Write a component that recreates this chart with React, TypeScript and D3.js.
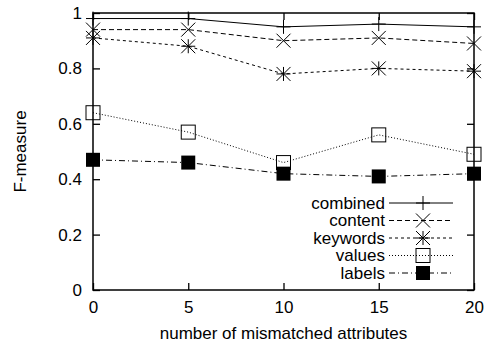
import * as d3 from 'd3';
import { useEffect, useRef } from 'react';

const attrs = [0, 5, 10, 15, 20];
const combined = [0.98, 0.98, 0.95, 0.96, 0.95];
const content = [0.94, 0.94, 0.9, 0.91, 0.89];
const keywords = [0.91, 0.88, 0.78, 0.8, 0.79];
const values = [0.64, 0.57, 0.46, 0.56, 0.49];
const labels = [0.47, 0.46, 0.42, 0.41, 0.42];
const yTicks = [0, 0.2, 0.4, 0.6, 0.8, 1];

const seriesNames = ['combined', 'content', 'keywords', 'values', 'labels'];

export default function App() {
  const ref = useRef<SVGSVGElement>(null);

  useEffect(() => {
    const svg = d3.select(ref.current);
    svg.selectAll('*').remove();

    const margin = { top: 13, right: 14, bottom: 55, left: 93 };
    const width = 488 - margin.left - margin.right;
    const height = 345 - margin.top - margin.bottom;
    const font = '"Liberation Sans", Arial, sans-serif';

    const x = d3.scaleLinear().domain([0, 20]).range([0, width]);
    const y = d3.scaleLinear().domain([0, 1]).range([height, 0]);

    const g = svg.append('g').attr('transform', `translate(${margin.left},${margin.top})`);

    // axes, ticks pointing inward on all four sides
    const axisStyle = (sel: any) => {
      sel.select('.domain').remove();
      sel.selectAll('line').attr('stroke', '#000').attr('stroke-width', 1.3);
      sel.selectAll('text').attr('fill', '#000').style('font-family', font).style('font-size', '17px');
    };
    g.append('g').attr('transform', `translate(0,${height})`)
      .call(d3.axisBottom(x).tickValues(attrs).tickSize(-7).tickSizeOuter(0).tickPadding(11).tickFormat(d3.format('d')))
      .call(axisStyle);
    g.append('g')
      .call(d3.axisTop(x).tickValues(attrs).tickSize(-7).tickSizeOuter(0).tickFormat(() => ''))
      .call(axisStyle);
    g.append('g')
      .call(d3.axisLeft(y).tickValues(yTicks).tickSize(-7).tickSizeOuter(0).tickPadding(11).tickFormat(d3.format('')))
      .call(axisStyle);
    g.append('g').attr('transform', `translate(${width},0)`)
      .call(d3.axisRight(y).tickValues(yTicks).tickSize(-7).tickSizeOuter(0).tickFormat(() => ''))
      .call(axisStyle);

    g.append('rect').attr('width', width).attr('height', height)
      .attr('fill', 'none').attr('stroke', '#000').attr('stroke-width', 1.5);

    const allData = [combined, content, keywords, values, labels];
    const dashes = ['', '5,3', '3,3', '1,2', '6,3,1,3'];
    const r = 7;
    const plus = `M${-r},0H${r}M0,${-r}V${r}`;
    const cross = `M${-r},${-r}L${r},${r}M${-r},${r}L${r},${-r}`;

    const drawMarker = (sel: any, i: number) => {
      if (i === 0) sel.append('path').attr('d', plus).attr('stroke', '#000').attr('fill', 'none');
      if (i === 1) sel.append('path').attr('d', cross).attr('stroke', '#000').attr('fill', 'none');
      if (i === 2) sel.append('path').attr('d', plus + cross).attr('stroke', '#000').attr('fill', 'none');
      if (i === 3) sel.append('rect').attr('x', -r).attr('y', -r).attr('width', 2 * r).attr('height', 2 * r)
        .attr('stroke', '#000').attr('fill', 'none');
      if (i === 4) sel.append('rect').attr('x', -r).attr('y', -r).attr('width', 2 * r).attr('height', 2 * r)
        .attr('fill', '#000');
    };

    const line = d3.line<number>().x((d, j) => x(attrs[j])).y(d => y(d));

    allData.forEach((vals, i) => {
      g.append('path').datum(vals).attr('d', line)
        .attr('fill', 'none').attr('stroke', '#000').attr('stroke-width', 1)
        .attr('stroke-dasharray', dashes[i]);
      vals.forEach((v, j) => {
        const m = g.append('g').attr('transform', `translate(${x(attrs[j])},${y(v)})`);
        drawMarker(m, i);
      });
    });

    // legend
    const leg = svg.append('g').attr('transform', 'translate(385,203)');
    seriesNames.forEach((name, i) => {
      const row = leg.append('g').attr('transform', `translate(0,${i * 17.5})`);
      row.append('text').attr('x', 0).attr('dy', '0.35em').attr('text-anchor', 'end')
        .style('font-family', font).style('font-size', '17px').text(name);
      row.append('line').attr('x1', 4).attr('x2', 68).attr('stroke', '#000')
        .attr('stroke-dasharray', dashes[i]);
      const m = row.append('g').attr('transform', 'translate(38,0)');
      drawMarker(m, i);
    });

    // axis titles
    svg.append('text').attr('x', margin.left + width / 2).attr('y', 339).attr('text-anchor', 'middle')
      .style('font-family', font).style('font-size', '17px').text('number of mismatched attributes');
    svg.append('text').attr('transform', `translate(26,${margin.top + height / 2}) rotate(-90)`)
      .attr('text-anchor', 'middle')
      .style('font-family', font).style('font-size', '17px').text('F-measure');
  }, []);

  return (
    <div>
      <svg ref={ref} width="488" height="345" style={{ position: 'absolute', left: 0, top: 0, background: '#fff' }}></svg>
    </div>
  );
}
